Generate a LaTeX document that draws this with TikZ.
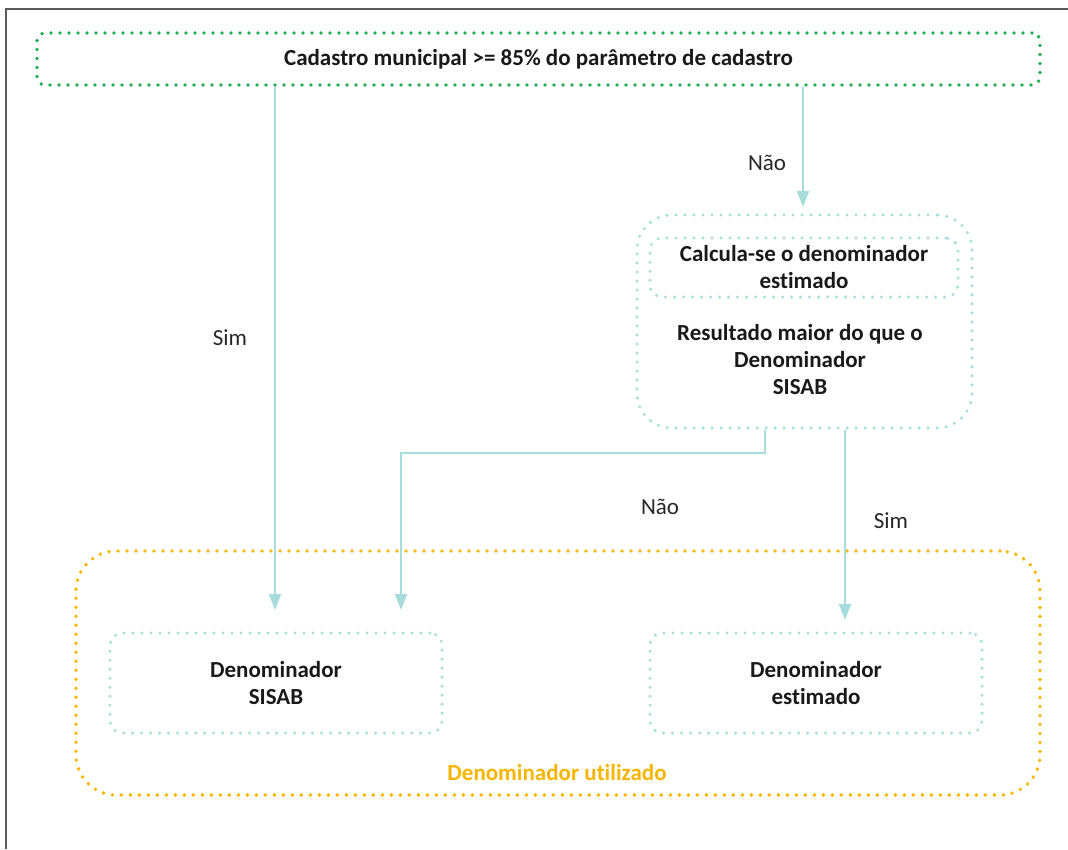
\documentclass[tikz,border=0pt]{standalone}
\usepackage{fontspec}
\setmainfont{Carlito}[Ligatures={NoCommon}]
\usetikzlibrary{arrows.meta}
\definecolor{dgreen}{HTML}{1FAE50}
\definecolor{dorange}{HTML}{F7B500}
\definecolor{dteal}{HTML}{A6DCDC}
\definecolor{framegray}{HTML}{5A5A5A}
\begin{document}
\begin{tikzpicture}[x=1pt,y=-1pt,
  dotbox/.style={draw, line width=3.8pt, line cap=round, dash pattern=on 0pt off 9pt, inner sep=0pt},
  tdot/.style={line width=3.4pt},
  txt/.style={font=\fontsize{23}{27}\selectfont\bfseries, align=center, text=black!90},
  lbl/.style={font=\fontsize{23}{27}\selectfont, text=black!85},
  arr/.style={draw=dteal, line width=2pt, -{Triangle[width=12pt,length=16pt]}}
]
\useasboundingbox (0,0) rectangle (1068,849);
% frame
\draw[framegray, line width=2pt] (6,849) -- (6,8.5) -- (1068,8.5);

% top box
\node[dotbox, draw=dgreen, rounded corners=8pt, minimum width=1003pt, minimum height=52pt, txt] (top) at (538.5,59) {Cadastro municipal >= 85\% do parâmetro de cadastro};

% middle box
\node[dotbox, tdot, draw=dteal, rounded corners=35pt, minimum width=335pt, minimum height=213pt] (mid) at (804.5,321.5) {};
\node[dotbox, tdot, draw=dteal, rounded corners=12pt, minimum width=308pt, minimum height=59pt, txt] (inner) at (804,267.5) {Calcula-se o denominador\\estimado};
\node[txt] (res) at (800,360) {Resultado maior do que o\\Denominador\\SISAB};

% bottom group
\node[dotbox, draw=dorange, rounded corners=40pt, minimum width=964pt, minimum height=244pt] (grp) at (558,673) {};
\node[txt, text=dorange] (grplbl) at (557,773) {Denominador utilizado};
\node[dotbox, tdot, draw=dteal, rounded corners=12pt, minimum width=332pt, minimum height=100pt, txt] (sisab) at (276,683) {Denominador\\SISAB};
\node[dotbox, tdot, draw=dteal, rounded corners=12pt, minimum width=332pt, minimum height=100pt, txt] (est) at (816,683) {Denominador\\estimado};

% connector end points
\coordinate (simEnd) at (275,610);
\coordinate (naoTopEnd) at (803,207);
\coordinate (naoBend) at (765,453);
\coordinate (naoEnd) at (401,610);
\coordinate (simREnd) at (845,620);

\draw[arr] (top.south -| simEnd) -- (simEnd);
\draw[arr] (top.south -| naoTopEnd) -- (naoTopEnd);
\draw[arr] (mid.south -| naoBend) -- (naoBend) -- (naoBend -| naoEnd) -- (naoEnd);
\draw[arr] (mid.south -| simREnd) -- (simREnd);

% labels
\node[lbl] (l1) at (230,338) {Sim};
\node[lbl] (l2) at (767,163) {Não};
\node[lbl] (l3) at (660,507) {Não};
\node[lbl] (l4) at (891,521) {Sim};
\end{tikzpicture}
\end{document}
